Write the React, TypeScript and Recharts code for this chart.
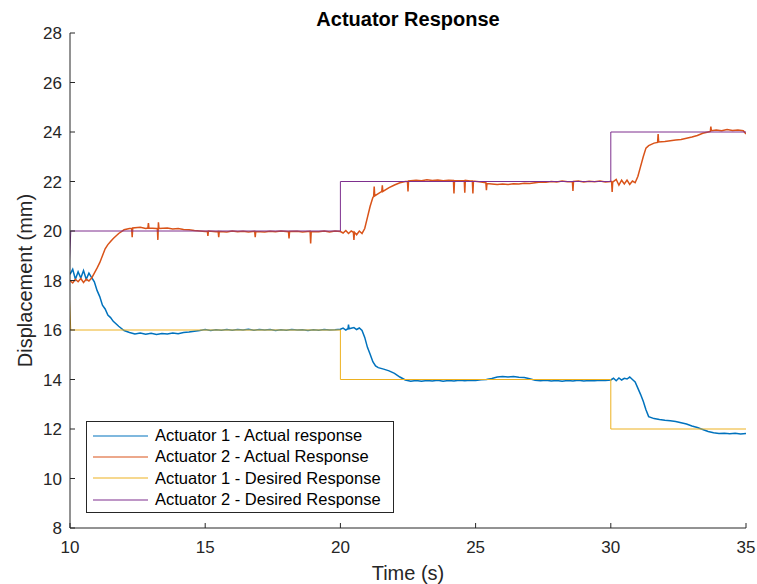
import React from 'react';
import { Label, Legend, Line, LineChart, XAxis, YAxis } from 'recharts';

// time (s), displacement (mm)
const act1Response: [number, number][] = [
    [10.0, 18.25], [10.1, 18.45], [10.2, 18.05], [10.3, 18.35], [10.4, 18.1], [10.5, 18.4], [10.6, 18.05], [10.7, 18.3], [10.8, 18.12], [10.9, 17.95],
    [11.0, 17.6], [11.1, 17.35], [11.2, 17.0], [11.3, 16.85], [11.4, 16.6], [11.5, 16.5], [11.6, 16.35], [11.8, 16.15], [12.0, 15.98], [12.2, 15.9],
    [12.4, 15.84], [12.6, 15.88], [12.8, 15.83], [13.0, 15.87], [13.2, 15.82], [13.4, 15.86], [13.6, 15.84], [13.8, 15.88], [14.0, 15.85], [14.2, 15.9],
    [14.4, 15.92], [14.6, 15.95], [14.8, 15.98], [15.0, 16.02], [15.2, 15.98], [15.4, 16.01], [15.6, 15.99], [15.8, 16.02], [16.0, 15.99], [16.2, 16.02],
    [16.4, 16.0], [16.6, 16.03], [16.8, 15.99], [17.0, 16.02], [17.2, 16.0], [17.4, 16.02], [17.6, 15.98], [17.8, 16.01], [18.0, 15.99], [18.2, 16.02],
    [18.4, 16.0], [18.6, 16.01], [18.8, 15.98], [19.0, 16.01], [19.2, 15.99], [19.4, 16.02], [19.6, 16.0], [19.8, 16.01], [20.0, 16.03], [20.1, 16.08],
    [20.2, 16.0], [20.28, 16.05], [20.3, 16.22], [20.32, 16.05], [20.5, 16.1], [20.6, 16.02], [20.7, 16.08], [20.8, 15.98], [20.9, 15.7], [21.0, 15.3],
    [21.1, 15.02], [21.2, 14.72], [21.3, 14.55], [21.4, 14.48], [21.6, 14.42], [21.8, 14.35], [22.0, 14.25], [22.2, 14.1], [22.4, 13.98], [22.6, 13.93],
    [22.8, 13.96], [23.0, 13.93], [23.2, 13.96], [23.4, 13.94], [23.6, 13.97], [23.8, 13.93], [24.0, 13.96], [24.2, 13.94], [24.4, 13.97], [24.6, 13.95],
    [24.8, 13.97], [25.0, 13.96], [25.2, 13.99], [25.4, 14.0], [25.6, 14.04], [25.8, 14.1], [26.0, 14.12], [26.2, 14.1], [26.4, 14.12], [26.6, 14.09],
    [26.8, 14.08], [27.0, 14.03], [27.2, 13.97], [27.4, 13.95], [27.6, 13.97], [27.8, 13.94], [28.0, 13.96], [28.2, 13.93], [28.4, 13.96], [28.6, 13.94],
    [28.8, 13.97], [29.0, 13.94], [29.2, 13.96], [29.4, 13.95], [29.6, 13.97], [29.8, 13.96], [30.0, 13.98], [30.1, 14.05], [30.2, 13.95], [30.3, 14.06],
    [30.4, 13.98], [30.5, 14.05], [30.6, 14.02], [30.7, 14.1], [30.8, 14.0], [30.9, 13.9], [31.0, 13.65], [31.1, 13.4], [31.2, 13.12], [31.3, 12.78],
    [31.4, 12.5], [31.6, 12.42], [31.8, 12.38], [32.0, 12.35], [32.2, 12.33], [32.4, 12.3], [32.6, 12.25], [32.8, 12.2], [33.0, 12.12], [33.2, 12.06],
    [33.4, 11.98], [33.6, 11.9], [33.8, 11.85], [34.0, 11.82], [34.2, 11.83], [34.4, 11.81], [34.6, 11.83], [34.8, 11.8], [35.0, 11.82],
];

const act2Response: [number, number][] = [
    [10.0, 18.0], [10.1, 17.9], [10.2, 18.05], [10.3, 17.95], [10.4, 18.08], [10.5, 17.92], [10.6, 18.05], [10.7, 17.98], [10.8, 18.1], [10.9, 18.3],
    [11.0, 18.5], [11.1, 18.72], [11.2, 19.0], [11.3, 19.28], [11.4, 19.45], [11.5, 19.58], [11.6, 19.7], [11.8, 19.9], [12.0, 20.05], [12.2, 20.1],
    [12.28, 20.1], [12.3, 19.75], [12.32, 20.12], [12.6, 20.15], [12.8, 20.1], [12.88, 20.12], [12.9, 20.32], [12.92, 20.12], [13.2, 20.1], [13.23, 20.1],
    [13.25, 19.64], [13.27, 20.35], [13.29, 20.1], [13.6, 20.12], [13.8, 20.08], [14.0, 20.1], [14.2, 20.06], [14.4, 20.05], [14.6, 20.02], [14.8, 20.0],
    [15.0, 19.98], [15.08, 19.99], [15.1, 19.8], [15.12, 20.0], [15.4, 19.97], [15.48, 19.98], [15.5, 19.75], [15.52, 19.98], [15.8, 19.96], [16.0, 20.0],
    [16.2, 19.97], [16.4, 19.99], [16.6, 19.96], [16.83, 19.99], [16.85, 19.75], [16.87, 19.98], [17.2, 19.96], [17.4, 19.99], [17.6, 19.97], [17.8, 20.0],
    [18.08, 19.97], [18.1, 19.7], [18.12, 19.98], [18.4, 19.99], [18.6, 19.96], [18.88, 19.99], [18.9, 19.5], [18.92, 19.98], [19.2, 19.97], [19.4, 20.0],
    [19.6, 19.96], [19.8, 20.0], [20.0, 19.98], [20.1, 19.92], [20.2, 20.02], [20.3, 19.9], [20.4, 20.0], [20.48, 19.95], [20.5, 19.64], [20.52, 19.95],
    [20.6, 19.85], [20.7, 20.0], [20.8, 19.9], [20.9, 20.1], [21.0, 20.55], [21.1, 21.0], [21.2, 21.35], [21.23, 21.4], [21.25, 21.8], [21.27, 21.42],
    [21.5, 21.58], [21.53, 21.59], [21.55, 21.85], [21.57, 21.6], [21.8, 21.75], [22.0, 21.86], [22.2, 21.95], [22.4, 22.0], [22.48, 22.01], [22.5, 21.6],
    [22.52, 22.02], [22.8, 22.05], [23.0, 22.03], [23.2, 22.07], [23.4, 22.04], [23.6, 22.06], [23.8, 22.03], [24.0, 22.05], [24.18, 22.04], [24.2, 21.52],
    [24.22, 22.04], [24.4, 22.03], [24.58, 22.04], [24.6, 21.55], [24.62, 22.05], [24.8, 22.02], [24.88, 22.02], [24.9, 21.52], [24.92, 22.02], [25.2, 21.98],
    [25.38, 21.95], [25.4, 21.65], [25.42, 21.92], [25.6, 21.9], [25.8, 21.88], [26.0, 21.9], [26.2, 21.88], [26.4, 21.91], [26.6, 21.9], [26.8, 21.93],
    [27.0, 21.92], [27.2, 21.95], [27.4, 21.98], [27.6, 21.97], [27.8, 22.0], [28.0, 21.98], [28.2, 22.02], [28.4, 21.99], [28.58, 22.0], [28.6, 21.62],
    [28.62, 22.0], [28.8, 22.02], [29.0, 21.98], [29.2, 22.01], [29.4, 21.99], [29.6, 22.02], [29.8, 21.98], [30.0, 22.0], [30.03, 22.0], [30.05, 21.58],
    [30.07, 21.97], [30.2, 22.08], [30.3, 21.85], [30.4, 22.05], [30.5, 21.9], [30.6, 22.06], [30.7, 21.88], [30.8, 22.02], [30.9, 21.95], [31.0, 22.2],
    [31.1, 22.6], [31.2, 23.0], [31.3, 23.35], [31.4, 23.45], [31.6, 23.55], [31.73, 23.58], [31.75, 23.92], [31.77, 23.6], [32.0, 23.62], [32.2, 23.65],
    [32.4, 23.68], [32.6, 23.7], [32.8, 23.75], [33.0, 23.8], [33.2, 23.86], [33.4, 23.95], [33.6, 24.0], [33.68, 24.02], [33.7, 24.22], [33.72, 24.05],
    [33.9, 24.08], [34.1, 24.05], [34.3, 24.1], [34.5, 24.06], [34.7, 24.08], [34.9, 24.05], [35.0, 23.92],
];

const desiredTime = [9.95, 10.03, 20, 20, 30, 30, 35];
const desired1 = [18, 16, 16, 14, 14, 12, 12];
const desired2 = [18, 20, 20, 22, 22, 24, 24];

const seriesNames = [
    'Actuator 1 - Actual response',
    'Actuator 2 - Actual Response',
    'Actuator 1 - Desired Response',
    'Actuator 2 - Desired Response',
];
const seriesColors = ['#0072BD', '#D95319', '#EDB120', '#7E2F8E'];

const xTicks = [10, 15, 20, 25, 30, 35];
const yTicks = [8, 10, 12, 14, 16, 18, 20, 22, 24, 26, 28];

const toRows = (pairs: [number, number][]) => pairs.map(([t, v]) => ({ t, v }));
const act1Data = toRows(act1Response);
const act2Data = toRows(act2Response);
const des1Data = desiredTime.map((t, i) => ({ t, v: desired1[i] }));
const des2Data = desiredTime.map((t, i) => ({ t, v: desired2[i] }));

const FONT = '"Liberation Sans", Arial, Helvetica, sans-serif';
const AXIS = '#262626';

function LegendBox() {
    return (
        <div
            style={{
                boxSizing: 'border-box',
                width: 308,
                height: 92,
                border: `1px solid ${AXIS}`,
                background: '#fff',
                paddingTop: 3,
                fontFamily: FONT,
                fontSize: 16.5,
                color: '#000',
            }}
        >
            {seriesNames.map((name, i) => (
                <div key={name} style={{ height: 21.3, display: 'flex', alignItems: 'center', whiteSpace: 'nowrap' }}>
                    <svg width={68} height={4} style={{ flex: 'none' }}>
                        <line x1={6} x2={61} y1={2} y2={2} stroke={seriesColors[i]} strokeWidth={1.2} />
                    </svg>
                    <span>{name}</span>
                </div>
            ))}
        </div>
    );
}

export default function App() {
    const tickStyle = { fontSize: 17, fill: AXIS, fontFamily: FONT };
    return (
        <div style={{ position: 'absolute', left: 0, top: 0, width: 757, height: 584, background: '#fff' }}>
            <div
                style={{
                    position: 'absolute',
                    left: 70,
                    top: 9,
                    width: 676,
                    textAlign: 'center',
                    fontFamily: FONT,
                    fontWeight: 'bold',
                    fontSize: 20,
                    lineHeight: '20px',
                    color: '#000',
                }}
            >
                Actuator Response
            </div>
            <LineChart width={757} height={584} margin={{ top: 33, right: 11, left: 10, bottom: 0 }}>
                <XAxis
                    dataKey='t'
                    type='number'
                    domain={[10, 35]}
                    ticks={xTicks}
                    allowDataOverflow
                    height={56}
                    tickSize={-5}
                    tickMargin={18}
                    stroke={AXIS}
                    tick={tickStyle}
                    interval={0}
                >
                    <Label value='Time (s)' position='insideBottom' offset={4} style={{ fontSize: 20, fill: AXIS, fontFamily: FONT }} />
                </XAxis>
                <XAxis
                    xAxisId='top'
                    orientation='top'
                    dataKey='t'
                    type='number'
                    domain={[10, 35]}
                    ticks={xTicks}
                    allowDataOverflow
                    height={0}
                    tickSize={-5}
                    tick={false}
                    stroke={AXIS}
                    interval={0}
                />
                <YAxis
                    type='number'
                    domain={[8, 28]}
                    ticks={yTicks}
                    allowDataOverflow
                    width={60}
                    tickSize={-5}
                    tickMargin={13}
                    stroke={AXIS}
                    tick={tickStyle}
                    interval={0}
                >
                    <Label
                        value='Displacement (mm)'
                        angle={-90}
                        position='insideLeft'
                        offset={15}
                        style={{ fontSize: 20, fill: AXIS, fontFamily: FONT, textAnchor: 'middle' }}
                    />
                </YAxis>
                <YAxis
                    yAxisId='right'
                    orientation='right'
                    type='number'
                    domain={[8, 28]}
                    ticks={yTicks}
                    allowDataOverflow
                    width={0}
                    tickSize={-5}
                    tick={false}
                    stroke={AXIS}
                    interval={0}
                />
                <Legend
                    layout='horizontal'
                    verticalAlign='middle'
                    align='center'
                    content={() => <LegendBox />}
                    wrapperStyle={{ left: 86, top: 421, width: 308, height: 92 }}
                />
                <Line data={act1Data} dataKey='v' name={seriesNames[0]} stroke={seriesColors[0]} strokeWidth={1.5} dot={false} isAnimationActive={false} />
                <Line data={act2Data} dataKey='v' name={seriesNames[1]} stroke={seriesColors[1]} strokeWidth={1.5} dot={false} isAnimationActive={false} />
                <Line data={des1Data} dataKey='v' name={seriesNames[2]} stroke={seriesColors[2]} strokeWidth={1} dot={false} isAnimationActive={false} />
                <Line data={des2Data} dataKey='v' name={seriesNames[3]} stroke={seriesColors[3]} strokeWidth={1} dot={false} isAnimationActive={false} />
            </LineChart>
        </div>
    );
}
